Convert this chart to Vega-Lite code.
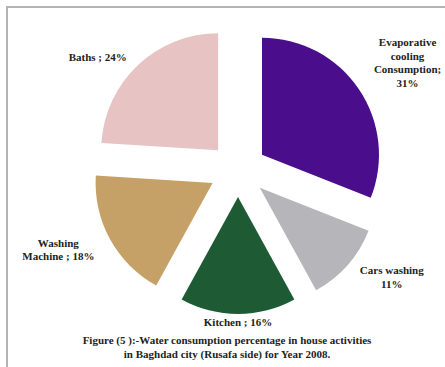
{
  "$schema": "https://vega.github.io/schema/vega-lite/v6.json",
  "width": 462,
  "height": 367,
  "autosize": {"type": "none"},
  "padding": {"left": 7, "top": 7, "right": -24, "bottom": -7},
  "background": "white",
  "view": {"stroke": "#b4b4b4", "strokeWidth": 2, "fill": "white"},
  "title": {
    "text": ["Figure (5 ):-Water consumption percentage in house activities", "in Baghdad city  (Rusafa side) for Year 2008."],
    "orient": "bottom",
    "frame": "group",
    "anchor": "middle",
    "offset": -39,
    "dx": -11,
    "font": "Liberation Serif",
    "fontSize": 11,
    "fontWeight": "bold",
    "color": "#222222",
    "lineHeight": 14
  },
  "data": {
    "values": [
      {"activity": "Evaporative cooling Consumption", "share": 31, "order": 1, "label": "Evaporative\ncooling\nConsumption;\n31%"},
      {"activity": "Cars washing", "share": 11, "order": 2, "label": "Cars washing\n11%"},
      {"activity": "Kitchen", "share": 16, "order": 3, "label": "Kitchen ; 16%"},
      {"activity": "Washing Machine", "share": 18, "order": 4, "label": "Washing\nMachine ; 18%"},
      {"activity": "Baths", "share": 24, "order": 5, "label": "Baths ; 24%"}
    ]
  },
  "encoding": {
    "theta": {"field": "share", "type": "quantitative", "stack": true},
    "order": {"field": "order", "type": "quantitative"},
    "color": {
      "field": "activity",
      "type": "nominal",
      "scale": {
        "domain": ["Evaporative cooling Consumption", "Cars washing", "Kitchen", "Washing Machine", "Baths"],
        "range": ["#4a0e8c", "#b6b6ba", "#1e5b35", "#c5a167", "#e7c3c4"]
      },
      "legend": null
    }
  },
  "layer": [
    {
      "mark": {
        "type": "arc",
        "outerRadius": 117,
        "x": {"expr": "width/2 + 29*sin(scale('theta', (datum.share_start + datum.share_end)/2))"},
        "y": {"expr": "height*0.444 - 27*cos(scale('theta', (datum.share_start + datum.share_end)/2))"}
      }
    },
    {
      "mark": {
        "type": "text",
        "font": "Liberation Serif",
        "fontSize": 11,
        "fontWeight": "bold",
        "lineBreak": "\n",
        "lineHeight": 13.5,
        "align": "center",
        "baseline": "middle",
        "x": {"expr": "width/2 + 205*sin(scale('theta', (datum.share_start + datum.share_end)/2))"},
        "y": {"expr": "height*0.444 - 153*cos(scale('theta', (datum.share_start + datum.share_end)/2)) - (cos(scale('theta', (datum.share_start + datum.share_end)/2)) > 0 ? (length(split(datum.label, '\\n')) - 1)*13.5 : 0)"}
      },
      "encoding": {
        "text": {"field": "label"},
        "color": {"value": "#222222"}
      }
    }
  ]
}
